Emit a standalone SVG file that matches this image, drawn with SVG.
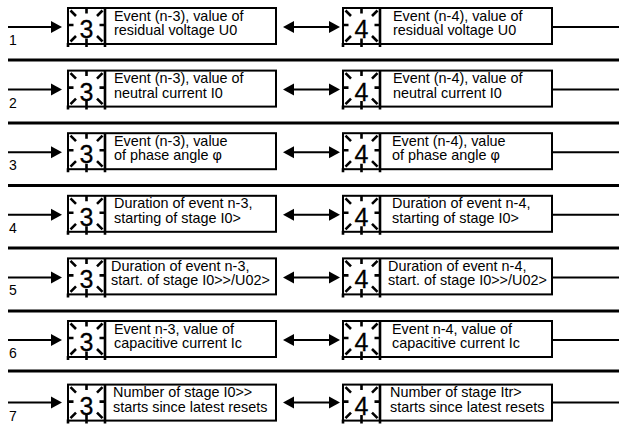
<svg xmlns="http://www.w3.org/2000/svg" xmlns:xlink="http://www.w3.org/1999/xlink" width="619" height="432" viewBox="0 0 619 432">
  <style>
    .box { fill: #fff; stroke: #000; stroke-width: 2; }
    .ray { fill: none; stroke: #000; stroke-width: 2.6; }
    .wire { fill: none; stroke: #000; stroke-width: 2; }
    .sep { fill: none; stroke: #000; stroke-width: 2.8; }
    .head { fill: #000; stroke: none; }
    .digit { font-family: "Liberation Sans", Arial, sans-serif; font-size: 25px; text-anchor: middle; fill: #000; stroke: #000; stroke-width: 0.3; }
    .txt { font-family: "Liberation Sans", Arial, sans-serif; font-size: 14.4px; fill: #000; }
    .num { font-family: "Liberation Sans", Arial, sans-serif; font-size: 14px; fill: #000; }
  </style>
  <defs>
    <!-- blinking display cell: rays around the digit -->
    <g id="blink">
      <path class="ray" d="M2.5,2.5 L8,8 M34.5,2.5 L29,8 M2.5,33.5 L8,28 M34.5,33.5 L29,28 M18.5,0 V5.5 M18.5,30.5 V39 M0,17 H5.5 M31.5,17 H37 M37,0 V39 M0,35 V39"/>
    </g>
    <!-- arrowheads, tip at origin -->
    <path id="headR" class="head" d="M0,0 L-11,-6 L-11,6 z"/>
    <path id="headL" class="head" d="M0,0 L11,-6 L11,6 z"/>
  </defs>

  <!-- row separators and connectors -->
  <g id="connectors">
    <path class="sep" d="M8,60 H619 M8,123 H619 M8,185.5 H619 M8,248 H619 M8,311 H619 M8,371 H619"/>

    <path class="wire" d="M8,27 H55 M290,27 H333 M552,27 H619"/>
    <use href="#headR" x="62" y="27"/><use href="#headL" x="283" y="27"/><use href="#headR" x="340" y="27"/>

    <path class="wire" d="M8,89.6 H55 M290,89.6 H333 M552,89.6 H619"/>
    <use href="#headR" x="62" y="89.6"/><use href="#headL" x="283" y="89.6"/><use href="#headR" x="340" y="89.6"/>

    <path class="wire" d="M8,152.2 H55 M290,152.2 H333 M552,152.2 H619"/>
    <use href="#headR" x="62" y="152.2"/><use href="#headL" x="283" y="152.2"/><use href="#headR" x="340" y="152.2"/>

    <path class="wire" d="M8,214.8 H55 M290,214.8 H333 M552,214.8 H619"/>
    <use href="#headR" x="62" y="214.8"/><use href="#headL" x="283" y="214.8"/><use href="#headR" x="340" y="214.8"/>

    <path class="wire" d="M8,277.4 H55 M290,277.4 H333 M552,277.4 H619"/>
    <use href="#headR" x="62" y="277.4"/><use href="#headL" x="283" y="277.4"/><use href="#headR" x="340" y="277.4"/>

    <path class="wire" d="M8,340 H55 M290,340 H333 M552,340 H619"/>
    <use href="#headR" x="62" y="340"/><use href="#headL" x="283" y="340"/><use href="#headR" x="340" y="340"/>

    <path class="wire" d="M8,402.6 H55 M290,402.6 H333 M552,402.6 H619"/>
    <use href="#headR" x="62" y="402.6"/><use href="#headL" x="283" y="402.6"/><use href="#headR" x="340" y="402.6"/>
  </g>

  <!-- row numbers -->
  <g id="row-labels">
    <text class="num" x="9" y="45">1</text>
    <text class="num" x="9" y="107.6">2</text>
    <text class="num" x="9" y="170.2">3</text>
    <text class="num" x="9" y="232.8">4</text>
    <text class="num" x="9" y="295.4">5</text>
    <text class="num" x="9" y="358">6</text>
    <text class="num" x="9" y="421">7</text>
  </g>

  <!-- row 1 -->
  <g id="r1-n3" transform="translate(68,8)">
    <rect class="box" x="0" y="0" width="208" height="36"/>
    <use href="#blink"/><text class="digit" x="18.5" y="30">3</text>
    <text class="txt" x="46" y="12.5">Event (n-3), value of</text>
    <text class="txt" x="46" y="27">residual voltage U0</text>
  </g>
  <g id="r1-n4" transform="translate(343,8)">
    <rect class="box" x="0" y="0" width="209" height="36"/>
    <use href="#blink"/><text class="digit" x="18.5" y="30">4</text>
    <text class="txt" x="50" y="12.5">Event (n-4), value of</text>
    <text class="txt" x="50" y="27">residual voltage U0</text>
  </g>

  <!-- row 2 -->
  <g id="r2-n3" transform="translate(68,70.6)">
    <rect class="box" x="0" y="0" width="208" height="36"/>
    <use href="#blink"/><text class="digit" x="18.5" y="30">3</text>
    <text class="txt" x="46" y="12.5">Event (n-3), value of</text>
    <text class="txt" x="46" y="27">neutral current I0</text>
  </g>
  <g id="r2-n4" transform="translate(343,70.6)">
    <rect class="box" x="0" y="0" width="209" height="36"/>
    <use href="#blink"/><text class="digit" x="18.5" y="30">4</text>
    <text class="txt" x="50" y="12.5">Event (n-4), value of</text>
    <text class="txt" x="50" y="27">neutral current I0</text>
  </g>

  <!-- row 3 -->
  <g id="r3-n3" transform="translate(68,133.2)">
    <rect class="box" x="0" y="0" width="208" height="36"/>
    <use href="#blink"/><text class="digit" x="18.5" y="30">3</text>
    <text class="txt" x="46" y="12.5">Event (n-3), value</text>
    <text class="txt" x="46" y="27">of phase angle φ</text>
  </g>
  <g id="r3-n4" transform="translate(343,133.2)">
    <rect class="box" x="0" y="0" width="209" height="36"/>
    <use href="#blink"/><text class="digit" x="18.5" y="30">4</text>
    <text class="txt" x="49" y="12.5">Event (n-4), value</text>
    <text class="txt" x="49" y="27">of phase angle φ</text>
  </g>

  <!-- row 4 -->
  <g id="r4-n3" transform="translate(68,195.8)">
    <rect class="box" x="0" y="0" width="208" height="36"/>
    <use href="#blink"/><text class="digit" x="18.5" y="30">3</text>
    <text class="txt" x="46" y="12.5">Duration of event n-3,</text>
    <text class="txt" x="46" y="27">starting of stage I0&gt;</text>
  </g>
  <g id="r4-n4" transform="translate(343,195.8)">
    <rect class="box" x="0" y="0" width="209" height="36"/>
    <use href="#blink"/><text class="digit" x="18.5" y="30">4</text>
    <text class="txt" x="49" y="12.5">Duration of event n-4,</text>
    <text class="txt" x="49" y="27">starting of stage I0&gt;</text>
  </g>

  <!-- row 5 -->
  <g id="r5-n3" transform="translate(68,258.4)">
    <rect class="box" x="0" y="0" width="208" height="36"/>
    <use href="#blink"/><text class="digit" x="18.5" y="30">3</text>
    <text class="txt" x="43" y="12.5">Duration of event n-3,</text>
    <text class="txt" x="43" y="27">start. of stage I0&gt;&gt;/U02&gt;</text>
  </g>
  <g id="r5-n4" transform="translate(343,258.4)">
    <rect class="box" x="0" y="0" width="209" height="36"/>
    <use href="#blink"/><text class="digit" x="18.5" y="30">4</text>
    <text class="txt" x="45" y="12.5">Duration of event n-4,</text>
    <text class="txt" x="45" y="27">start. of stage I0&gt;&gt;/U02&gt;</text>
  </g>

  <!-- row 6 -->
  <g id="r6-n3" transform="translate(68,321)">
    <rect class="box" x="0" y="0" width="208" height="36"/>
    <use href="#blink"/><text class="digit" x="18.5" y="30">3</text>
    <text class="txt" x="46" y="12.5">Event n-3, value of</text>
    <text class="txt" x="46" y="27">capacitive current Ic</text>
  </g>
  <g id="r6-n4" transform="translate(343,321)">
    <rect class="box" x="0" y="0" width="209" height="36"/>
    <use href="#blink"/><text class="digit" x="18.5" y="30">4</text>
    <text class="txt" x="49" y="12.5">Event n-4, value of</text>
    <text class="txt" x="49" y="27">capacitive current Ic</text>
  </g>

  <!-- row 7 -->
  <g id="r7-n3" transform="translate(68,384.6)">
    <rect class="box" x="0" y="0" width="208" height="36"/>
    <use href="#blink"/><text class="digit" x="18.5" y="30">3</text>
    <text class="txt" x="45" y="12.5">Number of stage I0&gt;&gt;</text>
    <text class="txt" x="45" y="27">starts since latest resets</text>
  </g>
  <g id="r7-n4" transform="translate(343,384.6)">
    <rect class="box" x="0" y="0" width="209" height="36"/>
    <use href="#blink"/><text class="digit" x="18.5" y="30">4</text>
    <text class="txt" x="47" y="12.5">Number of stage Itr&gt;</text>
    <text class="txt" x="47" y="27">starts since latest resets</text>
  </g>
</svg>
